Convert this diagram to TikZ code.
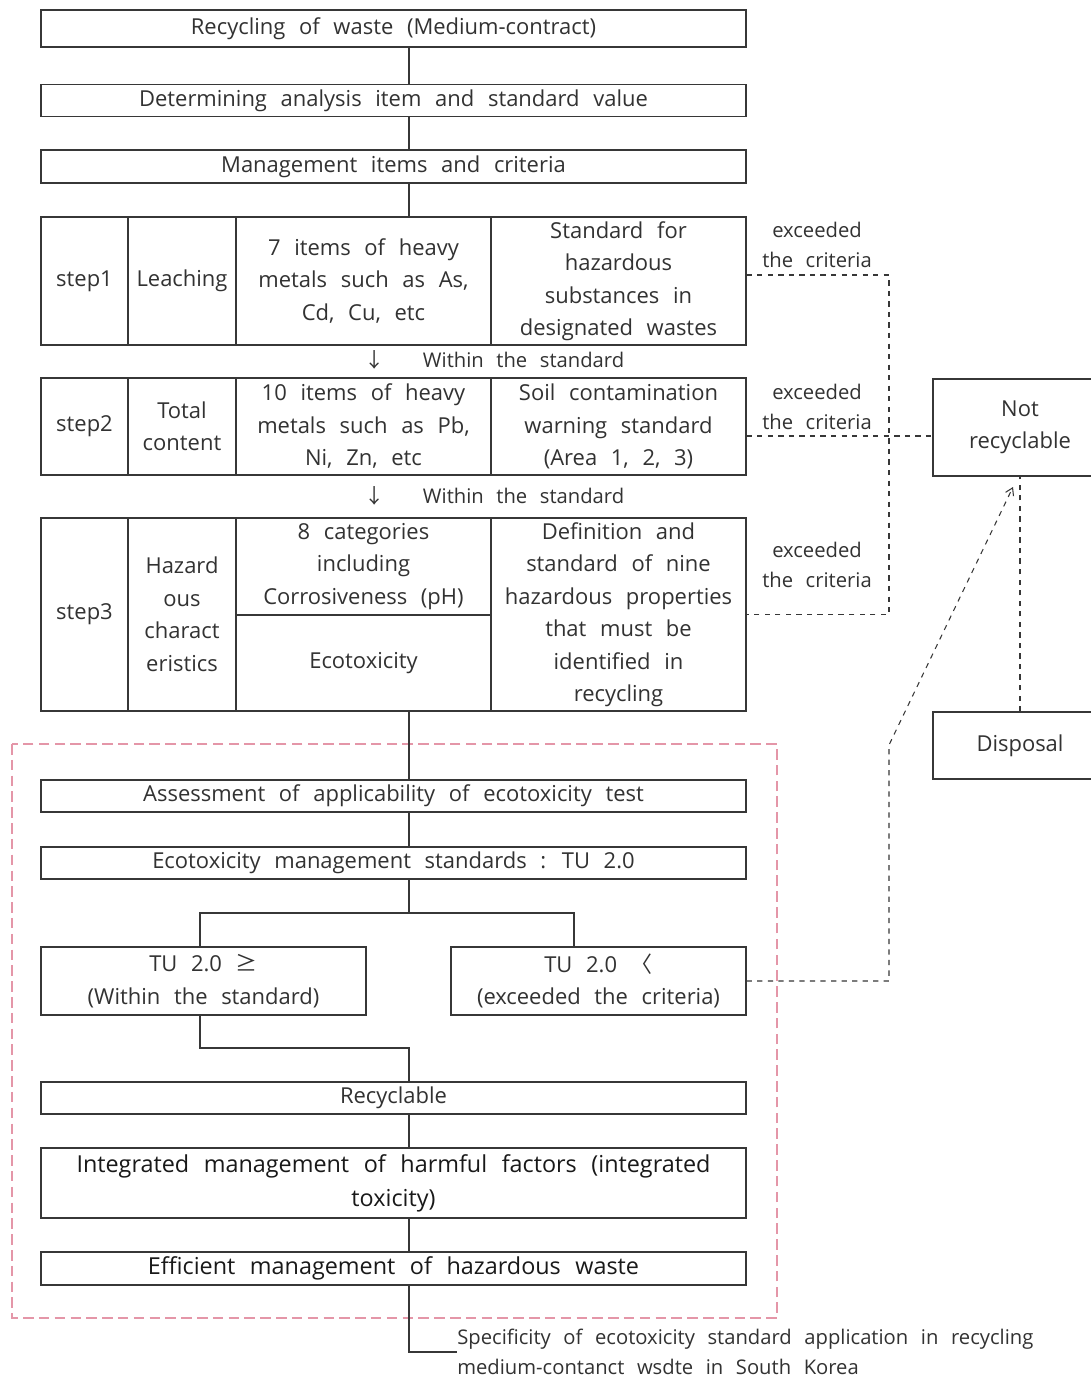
\documentclass[tikz,border=0pt]{standalone}
\usepackage{fontspec}
\setmainfont[WordSpace=2.4]{Open Sans}
\newfontfamily\cjk{Noto Sans CJK KR}
\usetikzlibrary{arrows.meta, positioning, calc}
\definecolor{linegray}{RGB}{55,55,55}
\definecolor{textgray}{RGB}{50,50,50}
\definecolor{pinkdash}{RGB}{228,150,168}

\tikzset{
  box/.style={draw=linegray, line width=0.8pt, inner sep=0pt, align=center, text=textgray, font=\fontsize{12.5}{18.5}\selectfont},
  bigbox/.style={box, font=\fontsize{13.3}{19.5}\selectfont, text=black!90},
  note/.style={text=textgray, align=center, inner sep=0pt, font=\fontsize{11.5}{17}\selectfont},
  link/.style={draw=linegray, line width=0.8pt},
  dashlink/.style={draw=linegray, line width=0.6pt, dashed}
}

\begin{document}
\begin{tikzpicture}[x=0.02cm, y=-0.02cm]
    \fill[white] (0,0) rectangle (1091,1380);
    \useasboundingbox (0,0) rectangle (1091,1380);

    % Top boxes
    \node[box, minimum width=14.1cm, minimum height=0.74cm] (top) at (393.5,28.5) {Recycling of waste (Medium-contract)};
    \node[box, minimum width=14.1cm, minimum height=0.64cm] (analysis) at (393.5,100.5) {Determining analysis item and standard value};
    \node[box, minimum width=14.1cm, minimum height=0.66cm] (items) at (393.5,166.5) {Management items and criteria};

    % step1
    \node[box, minimum width=1.74cm, minimum height=2.56cm] (s1a) at (84.5,281) {step1};
    \node[box, minimum width=2.16cm, minimum height=2.56cm] (s1b) at (182,281) {Leaching};
    \node[box, minimum width=5.1cm, minimum height=2.56cm] (s1c) at (363.5,281) {7 items of heavy\\metals such as As,\\Cd, Cu, etc};
    \node[box, minimum width=5.1cm, minimum height=2.56cm] (s1d) at (618.5,281) {Standard for\\hazardous\\substances in\\designated wastes};
    \node[note, anchor=west] (within1) at (364,360) {{\cjk ↓}\hspace{1.9em}Within the standard};

    % step2
    \node[box, minimum width=1.74cm, minimum height=1.94cm] (s2a) at (84.5,426.5) {step2};
    \node[box, minimum width=2.16cm, minimum height=1.94cm] (s2b) at (182,426.5) {Total\\content};
    \node[box, minimum width=5.1cm, minimum height=1.94cm] (s2c) at (363.5,426.5) {10 items of heavy\\metals such as Pb,\\Ni, Zn, etc};
    \node[box, minimum width=5.1cm, minimum height=1.94cm] (s2d) at (618.5,426.5) {Soil contamination\\warning standard\\(Area 1, 2, 3)};
    \node[note, anchor=west] (within2) at (364,496) {{\cjk ↓}\hspace{1.9em}Within the standard};

    % step3
    \node[box, minimum width=1.74cm, minimum height=3.86cm] (s3a) at (84.5,614.5) {step3};
    \node[box, minimum width=2.16cm, minimum height=3.86cm] (s3b) at (182,614.5) {Hazard\\ous\\charact\\eristics};
    \node[box, minimum width=5.1cm, minimum height=1.94cm] (s3c) at (363.5,566.5) {8 categories\\including\\Corrosiveness (pH)};
    \node[box, minimum width=5.1cm, minimum height=1.92cm] (s3e) at (363.5,663) {Ecotoxicity};
    \node[box, minimum width=5.1cm, minimum height=3.86cm] (s3d) at (618.5,614.5) {Definition and\\standard of nine\\hazardous properties\\that must be\\identified in\\recycling};

    % exceeded labels
    \node[note] (ex1) at (817,245) {exceeded\\the criteria};
    \node[note] (ex2) at (817,407) {exceeded\\the criteria};
    \node[note] (ex3) at (817,565) {exceeded\\the criteria};

    % right side
    \node[box, minimum width=3.48cm, minimum height=1.94cm] (notrec) at (1020,427.5) {Not\\recyclable};
    \node[box, minimum width=3.48cm, minimum height=1.34cm] (disposal) at (1020,745.5) {Disposal};

    % ecotoxicity part
    \draw[pinkdash, line width=0.8pt, dash pattern=on 6pt off 3pt] (12,744) rectangle (777,1318);
    \node[box, minimum width=14.1cm, minimum height=0.64cm] (assess) at (393.5,796) {Assessment of applicability of ecotoxicity test};
    \node[box, minimum width=14.1cm, minimum height=0.64cm] (ecomgmt) at (393.5,863) {Ecotoxicity management standards : TU 2.0};
    \node[box, minimum width=6.5cm, minimum height=1.36cm] (tuin) at (203.5,981) {TU 2.0 {\cjk ≥}\\(Within the standard)};
    \node[box, minimum width=5.9cm, minimum height=1.36cm] (tuout) at (598.5,981) {TU 2.0 {\cjk 〈}\\(exceeded the criteria)};
    \node[box, minimum width=14.1cm, minimum height=0.64cm] (recyc) at (393.5,1098) {Recyclable};
    \node[bigbox, minimum width=14.1cm, minimum height=1.4cm] (integ) at (393.5,1183) {Integrated management of harmful factors (integrated\\toxicity)};
    \node[bigbox, minimum width=14.1cm, minimum height=0.66cm] (effic) at (393.5,1268.5) {Efficient management of hazardous waste};
    \node[note, anchor=west, align=left] (caption) at (457,1352) {Specificity of ecotoxicity standard application in recycling\\medium-contanct wsdte in South Korea};

    % Main line
    \coordinate (spine) at (409,0);
    \draw[link] (top.south -| spine) -- (analysis.north -| spine);
    \draw[link] (analysis.south -| spine) -- (items.north -| spine);
    \draw[link] (items.south -| spine) -- (s1c.north -| spine);
    \draw[link] (s3e.south -| spine) -- (assess.north -| spine);
    \draw[link] (assess.south -| spine) -- (ecomgmt.north -| spine);

    % Branch
    \coordinate (split) at (409,913);
    \coordinate (lft) at (200,913);
    \coordinate (rgt) at (574,913);
    \coordinate (merge) at (200,1048);
    \draw[link] (ecomgmt.south -| spine) -- (split);
    \draw[link] (tuin.north -| lft) |- (split) -| (tuout.north -| rgt);
    \draw[link] (tuin.south -| lft) -- (merge) -| (recyc.north -| spine);
    \draw[link] (recyc.south -| spine) -- (integ.north -| spine);
    \draw[link] (integ.south -| spine) -- (effic.north -| spine);
    \draw[link] (effic.south -| spine) |- (caption.west);

    % Dashed links
    \coordinate (rail) at (889,0);
    \coordinate (bend) at (889,745);
    \coordinate (tip) at (1013,487);
    \draw[dashlink] ([yshift=0.12cm]s1d.east) -| (rail |- s3d.east) -- (s3d.east);
    \draw[dashlink] ([yshift=-0.19cm]s2d.east) -- ([yshift=-0.19cm]notrec.west |- s2d.east);
    \draw[dashlink, -{Straight Barb[length=4pt, width=5pt]}] (tuout.east) -| (bend) -- (tip);
    \draw[dashlink] (disposal.north) -- (notrec.south);
\end{tikzpicture}
\end{document}
